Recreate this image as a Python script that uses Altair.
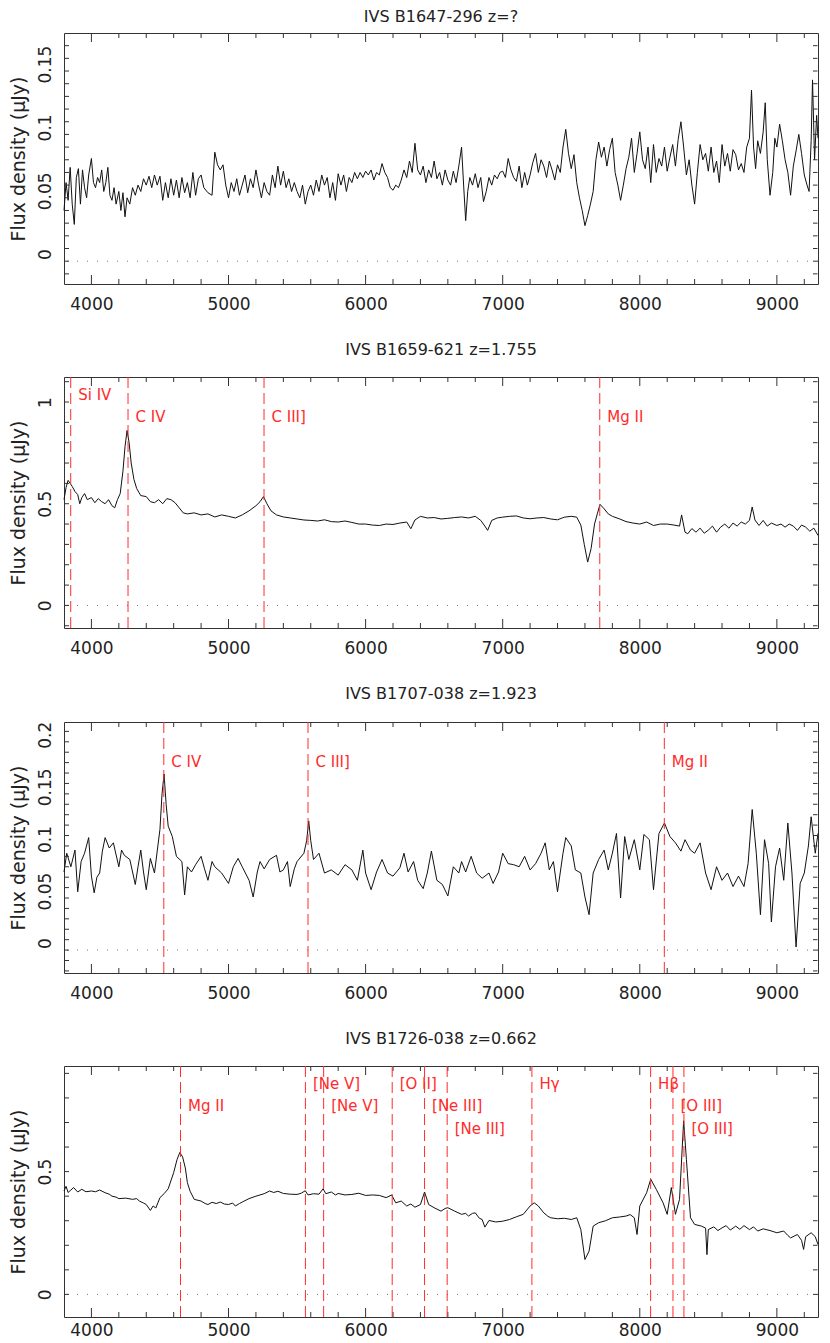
import altair as alt
import pandas as pd

W, H = 754, 251
XDOM = [3800, 9300]
FONT = "DejaVu Sans"
RED = "#ff2b2b"

# ---------------- x ticks ----------------
X_LABELS = [4000, 5000, 6000, 7000, 8000, 9000]
X_MINOR = [v for v in range(4200, 9201, 200) if v % 1000]

# ---------------- spectra (wavelength [A], flux density [uJy]) ----------------
B1647_296 = [
    (3800, 0.040), (3815, 0.062), (3830, 0.048), (3845, 0.074), (3860, 0.045), (3875, 0.029),
    (3890, 0.066), (3905, 0.073), (3920, 0.045), (3935, 0.072), (3950, 0.058), (3965, 0.050),
    (3980, 0.068), (4000, 0.081), (4015, 0.062), (4030, 0.058), (4045, 0.066), (4060, 0.062),
    (4075, 0.072), (4090, 0.055), (4105, 0.062), (4120, 0.074), (4135, 0.052), (4150, 0.048),
    (4165, 0.058), (4180, 0.045), (4200, 0.055), (4215, 0.040), (4230, 0.054), (4245, 0.035),
    (4260, 0.050), (4280, 0.045), (4300, 0.058), (4320, 0.052), (4340, 0.060), (4360, 0.055),
    (4380, 0.065), (4400, 0.060), (4420, 0.067), (4440, 0.058), (4460, 0.068), (4480, 0.060),
    (4500, 0.067), (4520, 0.048), (4540, 0.062), (4560, 0.050), (4580, 0.065), (4600, 0.052),
    (4620, 0.064), (4640, 0.050), (4660, 0.066), (4680, 0.054), (4700, 0.062), (4720, 0.050),
    (4740, 0.070), (4760, 0.052), (4780, 0.065), (4800, 0.068), (4820, 0.058), (4850, 0.054),
    (4880, 0.052), (4900, 0.086), (4920, 0.076), (4940, 0.072), (4960, 0.076), (4980, 0.060),
    (5000, 0.050), (5020, 0.062), (5040, 0.055), (5060, 0.065), (5080, 0.052), (5100, 0.060),
    (5120, 0.068), (5140, 0.054), (5160, 0.065), (5180, 0.058), (5200, 0.072), (5220, 0.060),
    (5240, 0.050), (5260, 0.062), (5280, 0.055), (5300, 0.052), (5320, 0.068), (5340, 0.058),
    (5360, 0.075), (5380, 0.060), (5400, 0.071), (5420, 0.058), (5440, 0.065), (5460, 0.055),
    (5480, 0.062), (5500, 0.055), (5520, 0.050), (5540, 0.060), (5560, 0.045), (5580, 0.055),
    (5600, 0.060), (5620, 0.052), (5640, 0.064), (5660, 0.055), (5680, 0.068), (5700, 0.060),
    (5720, 0.066), (5740, 0.050), (5760, 0.062), (5780, 0.048), (5800, 0.069), (5820, 0.060),
    (5840, 0.068), (5860, 0.055), (5880, 0.066), (5900, 0.062), (5920, 0.070), (5940, 0.065),
    (5960, 0.070), (5980, 0.066), (6000, 0.071), (6020, 0.068), (6040, 0.072), (6060, 0.064),
    (6080, 0.070), (6100, 0.068), (6120, 0.077), (6140, 0.070), (6160, 0.066), (6180, 0.058),
    (6200, 0.056), (6220, 0.060), (6240, 0.058), (6260, 0.064), (6280, 0.072), (6300, 0.066),
    (6320, 0.079), (6340, 0.070), (6360, 0.093), (6380, 0.072), (6400, 0.068), (6420, 0.075),
    (6440, 0.062), (6460, 0.072), (6480, 0.066), (6500, 0.079), (6520, 0.065), (6540, 0.070),
    (6560, 0.060), (6580, 0.072), (6600, 0.064), (6620, 0.060), (6640, 0.071), (6660, 0.062),
    (6680, 0.075), (6700, 0.090), (6715, 0.060), (6730, 0.032), (6745, 0.055), (6760, 0.066),
    (6780, 0.060), (6800, 0.069), (6820, 0.058), (6840, 0.066), (6860, 0.047), (6880, 0.055),
    (6900, 0.066), (6920, 0.060), (6940, 0.068), (6960, 0.065), (6980, 0.070), (7000, 0.071),
    (7020, 0.066), (7040, 0.081), (7060, 0.072), (7080, 0.066), (7100, 0.063), (7120, 0.075),
    (7140, 0.058), (7160, 0.070), (7180, 0.060), (7200, 0.068), (7220, 0.078), (7240, 0.085),
    (7260, 0.070), (7280, 0.080), (7300, 0.075), (7320, 0.066), (7340, 0.079), (7360, 0.072),
    (7380, 0.064), (7400, 0.076), (7420, 0.070), (7440, 0.090), (7460, 0.104), (7480, 0.085),
    (7500, 0.073), (7520, 0.084), (7540, 0.062), (7560, 0.050), (7580, 0.040), (7600, 0.028),
    (7620, 0.036), (7640, 0.045), (7660, 0.055), (7680, 0.080), (7700, 0.094), (7720, 0.082),
    (7740, 0.090), (7760, 0.075), (7780, 0.088), (7800, 0.097), (7820, 0.070), (7840, 0.060),
    (7860, 0.048), (7880, 0.060), (7900, 0.073), (7920, 0.082), (7940, 0.097), (7960, 0.070),
    (7980, 0.085), (8000, 0.102), (8020, 0.080), (8040, 0.073), (8060, 0.090), (8080, 0.062),
    (8100, 0.092), (8120, 0.070), (8140, 0.081), (8160, 0.075), (8180, 0.090), (8200, 0.071),
    (8220, 0.082), (8240, 0.092), (8260, 0.075), (8280, 0.096), (8300, 0.110), (8320, 0.090),
    (8340, 0.068), (8360, 0.080), (8380, 0.060), (8400, 0.045), (8420, 0.070), (8440, 0.092),
    (8460, 0.080), (8480, 0.085), (8500, 0.071), (8520, 0.090), (8540, 0.070), (8560, 0.079),
    (8580, 0.062), (8600, 0.092), (8620, 0.075), (8640, 0.085), (8660, 0.071), (8680, 0.088),
    (8700, 0.084), (8720, 0.072), (8740, 0.077), (8760, 0.070), (8780, 0.090), (8800, 0.097),
    (8815, 0.135), (8830, 0.090), (8845, 0.073), (8860, 0.095), (8880, 0.085), (8900, 0.102),
    (8915, 0.125), (8930, 0.080), (8950, 0.052), (8970, 0.070), (8985, 0.097), (9000, 0.090),
    (9020, 0.108), (9040, 0.095), (9060, 0.080), (9080, 0.070), (9100, 0.052), (9120, 0.075),
    (9140, 0.087), (9160, 0.100), (9180, 0.085), (9200, 0.068), (9220, 0.060), (9235, 0.055),
    (9250, 0.095), (9260, 0.143), (9275, 0.080), (9290, 0.115), (9300, 0.097),
]

B1659_621 = [
    (3800, 0.520), (3815, 0.580), (3830, 0.615), (3845, 0.600), (3860, 0.585), (3880, 0.560),
    (3900, 0.545), (3915, 0.500), (3930, 0.530), (3950, 0.550), (3970, 0.520), (4000, 0.530),
    (4025, 0.505), (4050, 0.525), (4075, 0.510), (4100, 0.500), (4125, 0.520), (4150, 0.490),
    (4170, 0.480), (4190, 0.520), (4210, 0.550), (4230, 0.660), (4245, 0.780), (4260, 0.860),
    (4275, 0.800), (4290, 0.700), (4310, 0.620), (4330, 0.575), (4360, 0.540), (4400, 0.535),
    (4430, 0.510), (4460, 0.505), (4490, 0.520), (4520, 0.500), (4550, 0.525), (4580, 0.520),
    (4610, 0.505), (4640, 0.480), (4670, 0.455), (4700, 0.450), (4750, 0.455), (4800, 0.445),
    (4850, 0.450), (4900, 0.435), (4950, 0.445), (5000, 0.438), (5050, 0.430), (5100, 0.445),
    (5150, 0.465), (5200, 0.490), (5230, 0.510), (5255, 0.535), (5280, 0.500), (5310, 0.465),
    (5350, 0.445), (5400, 0.435), (5450, 0.430), (5500, 0.425), (5550, 0.420), (5600, 0.418),
    (5650, 0.415), (5700, 0.421), (5750, 0.412), (5800, 0.410), (5850, 0.415), (5900, 0.408),
    (5950, 0.400), (6000, 0.400), (6050, 0.395), (6100, 0.393), (6150, 0.400), (6200, 0.398),
    (6250, 0.405), (6300, 0.410), (6330, 0.377), (6360, 0.420), (6400, 0.438), (6450, 0.430),
    (6500, 0.432), (6550, 0.425), (6600, 0.428), (6650, 0.432), (6700, 0.435), (6750, 0.430),
    (6800, 0.438), (6840, 0.418), (6870, 0.390), (6890, 0.369), (6920, 0.418), (6960, 0.430),
    (7000, 0.434), (7050, 0.438), (7100, 0.440), (7150, 0.430), (7200, 0.426), (7250, 0.430),
    (7300, 0.432), (7350, 0.425), (7400, 0.421), (7450, 0.434), (7500, 0.438), (7540, 0.434),
    (7570, 0.395), (7595, 0.300), (7620, 0.213), (7645, 0.280), (7670, 0.400), (7690, 0.450),
    (7710, 0.497), (7740, 0.475), (7770, 0.450), (7800, 0.438), (7850, 0.426), (7900, 0.412),
    (7950, 0.405), (8000, 0.400), (8050, 0.410), (8100, 0.393), (8150, 0.400), (8200, 0.400),
    (8250, 0.395), (8290, 0.390), (8305, 0.445), (8330, 0.360), (8350, 0.352), (8380, 0.378),
    (8410, 0.360), (8440, 0.380), (8470, 0.355), (8500, 0.370), (8530, 0.390), (8560, 0.360),
    (8590, 0.385), (8620, 0.400), (8650, 0.380), (8680, 0.405), (8710, 0.390), (8740, 0.410),
    (8770, 0.400), (8800, 0.418), (8820, 0.484), (8840, 0.420), (8870, 0.393), (8900, 0.418),
    (8930, 0.390), (8960, 0.405), (9000, 0.393), (9030, 0.400), (9060, 0.385), (9090, 0.400),
    (9120, 0.390), (9150, 0.369), (9180, 0.395), (9210, 0.385), (9240, 0.365), (9270, 0.380),
    (9300, 0.344),
]

B1707_038 = [
    (3800, 0.075), (3820, 0.093), (3850, 0.080), (3880, 0.096), (3900, 0.056), (3925, 0.085),
    (3950, 0.093), (3980, 0.108), (4000, 0.071), (4020, 0.055), (4040, 0.070), (4060, 0.074),
    (4080, 0.095), (4100, 0.108), (4130, 0.098), (4160, 0.103), (4200, 0.080), (4220, 0.096),
    (4240, 0.091), (4280, 0.087), (4320, 0.063), (4340, 0.080), (4360, 0.096), (4380, 0.075),
    (4400, 0.058), (4430, 0.088), (4460, 0.074), (4500, 0.116), (4515, 0.150), (4530, 0.169),
    (4545, 0.140), (4560, 0.119), (4590, 0.109), (4620, 0.090), (4660, 0.085), (4680, 0.053),
    (4700, 0.080), (4730, 0.075), (4760, 0.082), (4800, 0.090), (4825, 0.078), (4850, 0.067),
    (4880, 0.085), (4900, 0.080), (4950, 0.074), (5000, 0.064), (5035, 0.080), (5070, 0.088),
    (5100, 0.080), (5150, 0.067), (5180, 0.051), (5210, 0.075), (5230, 0.085), (5260, 0.078),
    (5300, 0.087), (5350, 0.091), (5375, 0.075), (5400, 0.077), (5430, 0.085), (5450, 0.061),
    (5480, 0.078), (5500, 0.085), (5550, 0.093), (5570, 0.105), (5585, 0.124), (5600, 0.105),
    (5620, 0.087), (5660, 0.093), (5700, 0.074), (5750, 0.077), (5800, 0.072), (5850, 0.082),
    (5900, 0.077), (5940, 0.067), (5980, 0.096), (6000, 0.074), (6040, 0.058), (6080, 0.075),
    (6120, 0.087), (6160, 0.074), (6200, 0.071), (6250, 0.079), (6280, 0.093), (6310, 0.075),
    (6350, 0.085), (6380, 0.067), (6420, 0.059), (6450, 0.074), (6480, 0.095), (6520, 0.067),
    (6560, 0.063), (6600, 0.052), (6640, 0.080), (6680, 0.074), (6700, 0.085), (6730, 0.075),
    (6770, 0.090), (6810, 0.074), (6850, 0.069), (6900, 0.074), (6930, 0.064), (6970, 0.075),
    (7000, 0.093), (7040, 0.083), (7080, 0.082), (7120, 0.080), (7160, 0.090), (7200, 0.077),
    (7240, 0.083), (7280, 0.093), (7310, 0.103), (7340, 0.077), (7370, 0.085), (7400, 0.056),
    (7440, 0.093), (7460, 0.108), (7500, 0.100), (7530, 0.077), (7570, 0.074), (7600, 0.051),
    (7630, 0.034), (7660, 0.074), (7700, 0.087), (7740, 0.096), (7770, 0.077), (7800, 0.093),
    (7830, 0.112), (7860, 0.050), (7890, 0.109), (7920, 0.087), (7960, 0.106), (8000, 0.077),
    (8030, 0.111), (8070, 0.106), (8100, 0.058), (8140, 0.112), (8180, 0.122), (8220, 0.109),
    (8260, 0.103), (8300, 0.095), (8330, 0.106), (8370, 0.096), (8400, 0.093), (8440, 0.103),
    (8480, 0.074), (8520, 0.058), (8560, 0.080), (8600, 0.067), (8640, 0.074), (8680, 0.061),
    (8720, 0.071), (8760, 0.061), (8790, 0.083), (8820, 0.135), (8850, 0.093), (8880, 0.034),
    (8910, 0.106), (8940, 0.083), (8960, 0.027), (8990, 0.080), (9020, 0.098), (9050, 0.067),
    (9080, 0.122), (9110, 0.074), (9140, 0.003), (9170, 0.064), (9200, 0.074), (9230, 0.100),
    (9250, 0.128), (9280, 0.093), (9300, 0.112),
]

B1726_038 = [
    (3800, 0.421), (3815, 0.440), (3830, 0.415), (3850, 0.425), (3870, 0.435), (3900, 0.417),
    (3930, 0.428), (3960, 0.418), (4000, 0.421), (4030, 0.418), (4060, 0.425), (4100, 0.414),
    (4130, 0.408), (4150, 0.400), (4180, 0.396), (4200, 0.390), (4250, 0.392), (4300, 0.387),
    (4330, 0.390), (4350, 0.380), (4380, 0.372), (4400, 0.366), (4430, 0.342), (4450, 0.360),
    (4470, 0.352), (4500, 0.394), (4530, 0.410), (4560, 0.430), (4600, 0.496), (4625, 0.550),
    (4645, 0.578), (4665, 0.560), (4685, 0.515), (4700, 0.455), (4720, 0.420), (4750, 0.387),
    (4800, 0.380), (4830, 0.370), (4850, 0.366), (4880, 0.375), (4910, 0.370), (4940, 0.376),
    (4970, 0.368), (5000, 0.366), (5030, 0.372), (5050, 0.360), (5080, 0.370), (5100, 0.376),
    (5150, 0.390), (5200, 0.400), (5230, 0.405), (5260, 0.410), (5300, 0.421), (5330, 0.415),
    (5360, 0.420), (5400, 0.411), (5450, 0.408), (5500, 0.407), (5530, 0.412), (5560, 0.422),
    (5580, 0.405), (5620, 0.410), (5660, 0.408), (5690, 0.430), (5710, 0.410), (5750, 0.417),
    (5780, 0.405), (5800, 0.411), (5850, 0.405), (5900, 0.407), (5950, 0.412), (6000, 0.403),
    (6050, 0.405), (6100, 0.403), (6150, 0.394), (6190, 0.405), (6220, 0.373), (6260, 0.380),
    (6300, 0.360), (6330, 0.368), (6360, 0.355), (6400, 0.366), (6430, 0.417), (6460, 0.366),
    (6500, 0.353), (6550, 0.339), (6580, 0.350), (6600, 0.353), (6650, 0.339), (6700, 0.326),
    (6730, 0.330), (6750, 0.319), (6780, 0.330), (6800, 0.332), (6830, 0.310), (6850, 0.305),
    (6870, 0.274), (6900, 0.301), (6950, 0.295), (7000, 0.298), (7050, 0.305), (7100, 0.316),
    (7150, 0.326), (7200, 0.360), (7230, 0.373), (7260, 0.360), (7300, 0.332), (7330, 0.318),
    (7350, 0.312), (7400, 0.308), (7450, 0.310), (7500, 0.305), (7540, 0.312), (7570, 0.264),
    (7600, 0.142), (7630, 0.176), (7660, 0.278), (7700, 0.292), (7750, 0.300), (7800, 0.312),
    (7850, 0.315), (7900, 0.319), (7930, 0.325), (7960, 0.312), (7980, 0.244), (8000, 0.360),
    (8050, 0.414), (8080, 0.469), (8120, 0.428), (8170, 0.373), (8200, 0.326), (8230, 0.435),
    (8260, 0.326), (8290, 0.387), (8310, 0.600), (8320, 0.707), (8340, 0.550), (8370, 0.312),
    (8400, 0.285), (8450, 0.278), (8480, 0.270), (8490, 0.162), (8500, 0.264), (8540, 0.275),
    (8570, 0.260), (8600, 0.271), (8630, 0.280), (8660, 0.262), (8700, 0.278), (8730, 0.265),
    (8760, 0.280), (8800, 0.264), (8830, 0.275), (8860, 0.258), (8900, 0.267), (8950, 0.260),
    (9000, 0.251), (9050, 0.258), (9080, 0.240), (9100, 0.230), (9150, 0.244), (9180, 0.220),
    (9195, 0.183), (9210, 0.235), (9250, 0.251), (9280, 0.235), (9300, 0.203),
]

# ---------------- emission line identifications (observed wavelength, label, label row) ----------------
LINES_1659 = [(3849, "Si IV", 1), (4267, "C IV", 2), (5259, "C III]", 2), (7708, "Mg II", 2)]
LINES_1707 = [(4528, "C IV", 2), (5580, "C III]", 2), (8179, "Mg II", 2)]
LINES_1726 = [
    (4650, "Mg II", 2), (5561, "[Ne V]", 1), (5694, "[Ne V]", 2), (6194, "[O II]", 1),
    (6430, "[Ne III]", 2), (6595, "[Ne III]", 3), (7213, "H\u03b3", 1), (8079, "H\u03b2", 1),
    (8242, "[O III]", 2), (8322, "[O III]", 3),
]

# ---------------- y axes ----------------
YDOM_1647 = [-0.018, 0.180]
YLAB_1647 = [0, 0.05, 0.1, 0.15]
YTICK_1647 = [round(0.01 * i, 2) for i in range(-1, 18)]

YDOM_1659 = [-0.111, 1.123]
YLAB_1659 = [0, 0.5, 1]
YTICK_1659 = [round(0.1 * i, 1) for i in range(-1, 12)]

YDOM_1707 = [-0.022, 0.219]
YLAB_1707 = [0, 0.05, 0.1, 0.15, 0.2]
YTICK_1707 = [round(0.01 * i, 2) for i in range(-2, 22)]

YDOM_1726 = [-0.092, 0.930]
YLAB_1726 = [0, 0.5]
YTICK_1726 = [round(0.1 * i, 1) for i in range(0, 10)]


def panel(title, spec, ydom, ylabels, yticks, lines, title_offset, label_shift, xpad):
    xs = alt.Scale(domain=XDOM, nice=False, zero=False)
    ys = alt.Scale(domain=ydom, nice=False, zero=False)
    df = pd.DataFrame(spec, columns=["lam", "flux"])

    x_axis = alt.Axis(values=X_LABELS, format="d", ticks=False, grid=False,
                      domain=False, labelFontSize=17, labelPadding=xpad, title=None,
                      labelFlush=False)
    y_axis = alt.Axis(values=ylabels, format="~g", ticks=False, grid=False,
                      domain=False, labelAngle=270, labelAlign="center",
                      labelBaseline="bottom", labelPadding=10, labelFontSize=17,
                      labelOffset=label_shift,
                      labelOverlap=False, title="Flux density (\u03bcJy)", titleFontSize=19,
                      titleAngle=270, titleAlign="center", titleBaseline="middle",
                      titleX=-46, titleY=H / 2)

    X = alt.X("lam:Q", scale=xs, axis=x_axis)
    Y = alt.Y("flux:Q", scale=ys, axis=y_axis)

    line = alt.Chart(df).mark_line(color="#111111", strokeWidth=1).encode(x=X, y=Y)

    zero = alt.Chart(pd.DataFrame({"flux": [0.0]})).mark_rule(
        color="#777777", strokeDash=[1, 9], strokeWidth=1
    ).encode(y=Y)

    xmaj = pd.DataFrame({"lam": X_LABELS})
    xmin = pd.DataFrame({"lam": X_MINOR})
    tick_style = dict(color="#333333", strokeWidth=1)
    t_top_maj = alt.Chart(xmaj).mark_rule(**tick_style).encode(
        x=X, y=alt.value(0), y2=alt.value(9))
    t_bot_maj = alt.Chart(xmaj).mark_rule(**tick_style).encode(
        x=X, y=alt.value(H), y2=alt.value(H - 9))
    t_top_min = alt.Chart(xmin).mark_rule(**tick_style).encode(
        x=X, y=alt.value(0), y2=alt.value(5))
    t_bot_min = alt.Chart(xmin).mark_rule(**tick_style).encode(
        x=X, y=alt.value(H), y2=alt.value(H - 5))
    ydf = pd.DataFrame({"flux": yticks})
    t_left = alt.Chart(ydf).mark_rule(**tick_style).encode(
        y=Y, x=alt.value(0), x2=alt.value(5))
    t_right = alt.Chart(ydf).mark_rule(**tick_style).encode(
        y=Y, x=alt.value(W - 0.5), x2=alt.value(W - 5))

    layers = [line, zero, t_top_maj, t_bot_maj, t_top_min, t_bot_min, t_left, t_right]

    if lines:
        ldf = pd.DataFrame(lines, columns=["lam", "label", "level"])
        rules = alt.Chart(ldf).mark_rule(color=RED, strokeDash=[11, 5], strokeWidth=1).encode(
            x=X)
        texts = alt.Chart(ldf).transform_calculate(
            py="17.6 + (datum.level - 1) * 22.8"
        ).mark_text(align="left", baseline="middle", dx=7.5, color=RED, fontSize=15,
                    font=FONT).encode(
            x=X,
            y=alt.Y("py:Q", scale=None, axis=None),
            text="label:N",
        )
        layers += [rules, texts]

    return alt.layer(*layers).properties(
        width=W, height=H,
        title=alt.TitleParams(title, offset=title_offset, fontSize=16, font=FONT,
                              fontWeight="normal", color="#222222", anchor="middle",
                              frame="group"),
    )


chart = alt.vconcat(
    panel("IVS B1647-296 z=?", B1647_296, YDOM_1647, YLAB_1647, YTICK_1647, [], 8, -7, 12),
    panel("IVS B1659-621 z=1.755", B1659_621, YDOM_1659, YLAB_1659, YTICK_1659, LINES_1659, 19, 0, 12),
    panel("IVS B1707-038 z=1.923", B1707_038, YDOM_1707, YLAB_1707, YTICK_1707, LINES_1707, 19, -7, 12),
    panel("IVS B1726-038 z=0.662", B1726_038, YDOM_1726, YLAB_1726, YTICK_1726, LINES_1726, 19, 0, 5),
    spacing=28,
).properties(
    padding={"left": 0, "top": 0, "right": 0, "bottom": 0}
).configure_view(
    stroke="#333333", strokeWidth=1
).configure_axis(
    labelFont=FONT, labelColor="#222222", titleFont=FONT, titleColor="#222222",
    titleFontWeight="normal"
)

chart.save("out.html", embed_options={"renderer": "svg", "actions": False})
